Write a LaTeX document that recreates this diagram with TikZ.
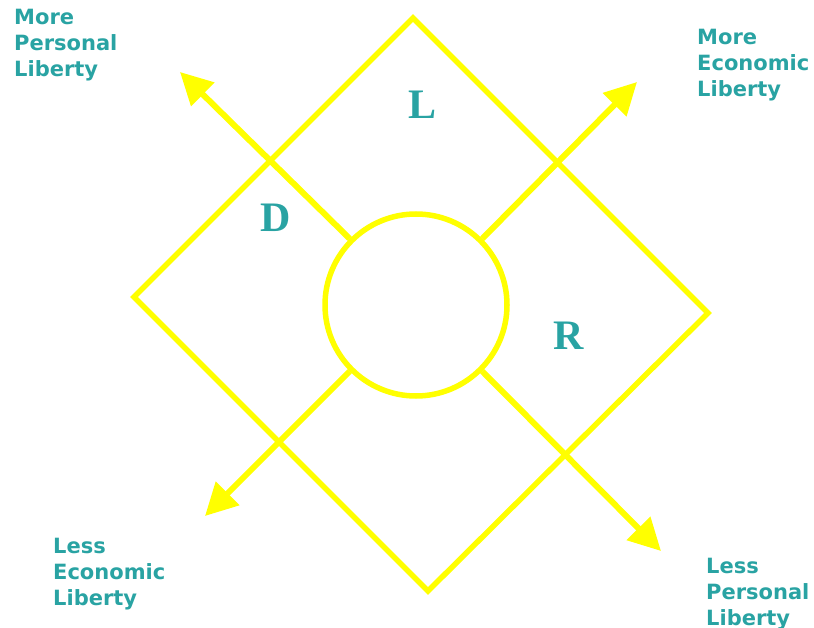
\documentclass[tikz,border=0pt]{standalone}
\usepackage{fontspec}
\setmainfont{DejaVu Sans}
\newfontfamily\letterfont{Liberation Serif}
\usetikzlibrary{arrows.meta}
\definecolor{teal1}{RGB}{41,163,163}
\definecolor{yel}{RGB}{255,255,0}
\tikzset{
  frame/.style={draw=yel,line width=5.5pt,line join=miter},
  axis/.style={draw=yel,line width=6pt,-{Triangle[length=32pt,width=32pt]}},
  lab/.style={text=teal1,font=\fontsize{21}{26}\selectfont\bfseries,align=left,anchor=north west,inner sep=0pt},
  letter/.style={text=teal1,font=\letterfont\bfseries\fontsize{42}{42}\selectfont,inner sep=0pt}
}
\begin{document}
\begin{tikzpicture}[x=1pt,y=-1pt]
\useasboundingbox (0,0) rectangle (814,628);
\coordinate (T) at (413,18);
\coordinate (R) at (708,313);
\coordinate (B) at (428,591);
\coordinate (L) at (134,297);
\draw[frame] (T) -- (R) -- (B) -- (L) -- cycle;
\node[circle,draw=yel,line width=5.5pt,minimum size=182pt,inner sep=0pt] (c) at (416,305) {};
\coordinate (nw) at (180,72);
\coordinate (ne) at (637,82);
\coordinate (sw) at (205,516);
\coordinate (se) at (661,551);
\draw[axis] (c.135) -- (nw);
\draw[axis] (c.45) -- (ne);
\draw[axis] (c.-135) -- (sw);
\draw[axis] (c.-45) -- (se);
\node[letter] (lL) at (423,105) {L};
\node[letter] (lD) at (276,218) {D};
\node[letter] (lR) at (569,336) {R};
\node[lab] (t1) at (14,9) {More\\Personal\\Liberty};
\node[lab] (t2) at (697,29) {More\\Economic\\Liberty};
\node[lab] (t3) at (53,538) {Less\\Economic\\Liberty};
\node[lab] (t4) at (706,558) {Less\\Personal\\Liberty};
\end{tikzpicture}
\end{document}
